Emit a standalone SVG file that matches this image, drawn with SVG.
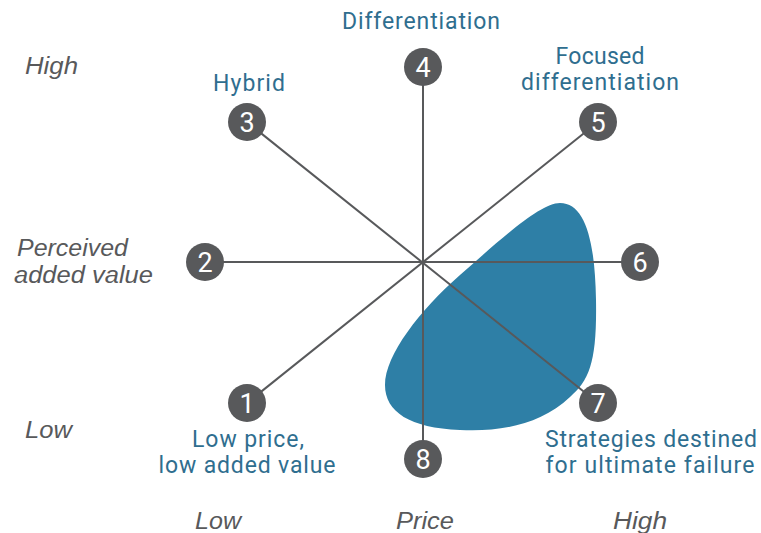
<svg xmlns="http://www.w3.org/2000/svg" width="761" height="533" viewBox="0 0 761 533">
<style>
.lbl{font-family:Roboto,"Liberation Sans",sans-serif;font-size:23px;fill:#2f6e8f;text-anchor:middle}
.ax{font-family:"Liberation Sans",Arial,sans-serif;font-size:23px;font-style:italic;fill:#58595b}
.num{font-family:Roboto,"Liberation Sans",sans-serif;font-size:27px;fill:#ffffff;text-anchor:middle}
.node circle{fill:#58595b}
.conn line{stroke:#58595b;stroke-width:2}
</style>
<rect width="761" height="533" fill="#ffffff"/>
<g id="zone">
<path d="M560,203 C585,203 595,240 596,300 C597,360 590,380 570,397 C540,425 500,432 460,430 C410,428 385,412 385,385 C385,355 420,310 460,275 C500,240 540,203 560,203 Z" fill="#2e7fa6"/>
</g>
<g id="connectors" class="conn">
<line x1="247" y1="403" x2="598" y2="122"/>
<line x1="247" y1="122" x2="598" y2="403"/>
<line x1="205" y1="262" x2="640" y2="262"/>
<line x1="423" y1="67" x2="423" y2="459"/>
</g>
<g id="n1" class="node"><circle cx="247" cy="403" r="19"/><text class="num" x="247" y="413">1</text></g>
<g id="n2" class="node"><circle cx="205" cy="262" r="19"/><text class="num" x="205" y="272">2</text></g>
<g id="n3" class="node"><circle cx="247" cy="122" r="19"/><text class="num" x="247" y="132">3</text></g>
<g id="n4" class="node"><circle cx="423" cy="67" r="19"/><text class="num" x="423" y="77">4</text></g>
<g id="n5" class="node"><circle cx="598" cy="122" r="19"/><text class="num" x="598" y="132">5</text></g>
<g id="n6" class="node"><circle cx="640" cy="262" r="19"/><text class="num" x="640" y="272">6</text></g>
<g id="n7" class="node"><circle cx="598" cy="403" r="19"/><text class="num" x="598" y="413">7</text></g>
<g id="n8" class="node"><circle cx="423" cy="459" r="19"/><text class="num" x="423" y="469">8</text></g>
<g id="labels">
<text class="lbl" x="421" y="29" textLength="158">Differentiation</text>
<text class="lbl" x="249" y="91" textLength="72">Hybrid</text>
<text class="lbl" x="600" y="64" textLength="89">Focused</text>
<text class="lbl" x="600" y="90" textLength="158">differentiation</text>
<text class="lbl" x="248" y="447" textLength="112">Low price,</text>
<text class="lbl" x="247" y="473" textLength="177">low added value</text>
<text class="lbl" x="651" y="447" textLength="212">Strategies destined</text>
<text class="lbl" x="650" y="473" textLength="209">for ultimate failure</text>
</g>
<g id="axes">
<text class="ax" x="25" y="74" textLength="53" lengthAdjust="spacingAndGlyphs">High</text>
<text class="ax" x="17" y="256" textLength="111" lengthAdjust="spacingAndGlyphs">Perceived</text>
<text class="ax" x="14" y="283" textLength="139" lengthAdjust="spacingAndGlyphs">added value</text>
<text class="ax" x="25" y="438" textLength="47" lengthAdjust="spacingAndGlyphs">Low</text>
<text class="ax" x="195" y="529" textLength="46" lengthAdjust="spacingAndGlyphs">Low</text>
<text class="ax" x="396" y="529" textLength="58" lengthAdjust="spacingAndGlyphs">Price</text>
<text class="ax" x="613" y="529" textLength="54" lengthAdjust="spacingAndGlyphs">High</text>
</g>
</svg>
